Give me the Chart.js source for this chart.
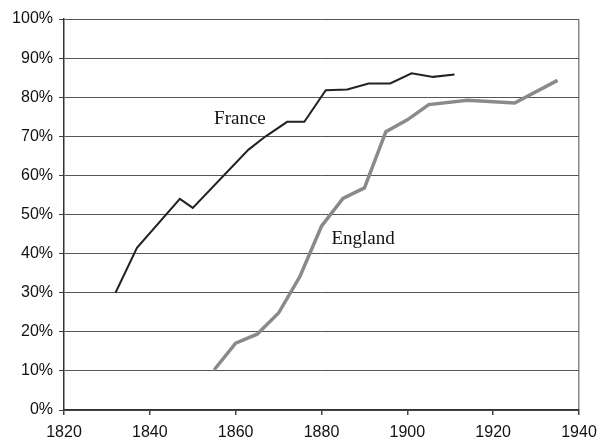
<!DOCTYPE html>
<html>
<head>
<meta charset="utf-8">
<script src="https://cdn.jsdelivr.net/npm/chart.js@4"></script>
<style>
  html, body { margin: 0; padding: 0; background: #fff; }
  #wrap { width: 599px; height: 440px; }
</style>
</head>
<body>
<div id="wrap"><canvas id="urbanChart" width="599" height="440"></canvas></div>
<script>
// France: share of population (%)
const franceYears  = [1832, 1837, 1847, 1850, 1863, 1867, 1872, 1876, 1881, 1886, 1891, 1896, 1901, 1906, 1911];
const franceValues = [30.0, 41.5, 54.0, 51.7, 66.6, 70.0, 73.7, 73.7, 81.8, 82.0, 83.5, 83.5, 86.1, 85.2, 85.8];

// England
const englandYears  = [1855, 1860, 1865, 1870, 1875, 1880, 1885, 1890, 1895, 1900, 1905, 1914, 1925, 1935];
const englandValues = [10.3, 17.1, 19.4, 24.8, 34.2, 47.0, 54.1, 56.8, 71.2, 74.2, 78.1, 79.2, 78.5, 84.3];

// labels written on the plot (data coordinates)
const seriesLabels = [
    { text: "France",  x: 1861,   y: 74.4 },
    { text: "England", x: 1889.7, y: 43.7 }
];

function toPoints(xs, ys) {
    return xs.map((x, i) => ({ x: x, y: ys[i] }));
}

// draw the series names next to the lines
const seriesLabelPlugin = {
    id: 'seriesLabels',
    afterDatasetsDraw(chart) {
        const ctx = chart.ctx;
        const xs = chart.scales.x, ys = chart.scales.y;
        ctx.save();
        ctx.font = '19px "Liberation Serif", "Times New Roman", serif';
        ctx.fillStyle = '#111';
        ctx.textAlign = 'center';
        ctx.textBaseline = 'middle';
        seriesLabels.forEach(l => {
            ctx.fillText(l.text, xs.getPixelForValue(l.x), ys.getPixelForValue(l.y));
        });
        ctx.restore();
    }
};

const ctx = document.getElementById("urbanChart").getContext("2d");

new Chart(ctx, {
    type: 'line',
    data: {
        datasets: [{
            label: 'France',
            data: toPoints(franceYears, franceValues),
            borderColor: '#222',
            borderWidth: 2,
            pointRadius: 0,
            tension: 0
        }, {
            label: 'England',
            data: toPoints(englandYears, englandValues),
            borderColor: '#8a8a8a',
            borderWidth: 3.5,
            pointRadius: 0,
            tension: 0
        }]
    },
    options: {
        responsive: false,
        animation: false,
        layout: { padding: { top: 19, right: 20, left: 0, bottom: 0 } },
        plugins: {
            legend: { display: false },
            tooltip: { enabled: false }
        },
        scales: {
            x: {
                type: 'linear',
                min: 1820,
                max: 1940,
                afterFit(scale) {
                    scale.height = 30;
                    scale.paddingRight = 0;
                    scale.paddingLeft = 0;
                },
                ticks: {
                    stepSize: 20,
                    color: '#111',
                    padding: 8,
                    maxRotation: 0,
                    font: { family: '"Liberation Sans", Arial, sans-serif', size: 16 },
                    callback: v => String(v)
                },
                grid: {
                    color: ctx => ctx.tick && ctx.tick.value === 1940 ? '#888' : 'rgba(0,0,0,0)',
                    tickColor: '#444',
                    tickLength: 5,
                    lineWidth: 1.5
                },
                border: { display: true, color: '#333', width: 1.5 }
            },
            y: {
                min: 0,
                max: 100,
                afterFit(scale) { scale.width = 64; },
                ticks: {
                    stepSize: 10,
                    color: '#111',
                    padding: 6,
                    font: { family: '"Liberation Sans", Arial, sans-serif', size: 16 },
                    callback: v => v + '%'
                },
                grid: {
                    color: '#555',
                    tickColor: '#444',
                    tickLength: 5,
                    lineWidth: 1
                },
                border: { display: true, color: '#333', width: 1.5 }
            }
        }
    },
    plugins: [seriesLabelPlugin]
});
</script>
</body>
</html>
